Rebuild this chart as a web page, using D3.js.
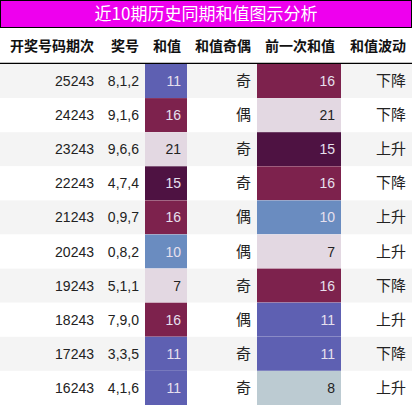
<!DOCTYPE html><html><head><meta charset="utf-8">
<script src="https://cdn.jsdelivr.net/npm/d3@7"></script>
<style>body{margin:0;background:#fff}</style></head><body><svg id="c" width="412" height="405"></svg>
<script>
const title="近10期历史同期和值图示分析";
const headers=["开奖号码期次","奖号","和值","和值奇偶","前一次和值","和值波动"];
const periods=["25243","24243","23243","22243","21243","20243","19243","18243","17243","16243"];
const numbers=["8,1,2","9,1,6","9,6,6","4,7,4","0,9,7","0,8,2","5,1,1","7,9,0","3,3,5","4,1,6"];
const sums=[11,16,21,15,16,10,7,16,11,11];
const parity=["奇","偶","奇","奇","偶","偶","奇","偶","奇","奇"];
const prevSums=[16,21,15,16,10,7,16,11,11,8];
const trend=["下降","下降","上升","下降","上升","上升","下降","上升","下降","上升"];
const colorVals=[7,8,10,11,15,16,21];
const colorRange=["#e3d8e2","#bccbd2","#6a8cc0","#5e60b2","#4e1242","#7d224d","#e3d8e2"];
const color=d3.scaleOrdinal(colorVals,colorRange);
const light=v=>v===7||v===8||v===21;
const svg=d3.select("#c");
const font="'Noto Sans CJK SC','Liberation Sans',sans-serif";
const edges=[0,100,145,187,257,341,412];
const x=d3.scaleOrdinal(d3.range(6),edges.slice(0,6));
const w=i=>edges[i+1]-edges[i];
const y=d3.scaleBand(d3.range(10),[64,405]);
svg.append("rect").attr("x",0.5).attr("y",0.5).attr("width",411).attr("height",27).attr("fill","#ee00ee").attr("stroke","#000");
svg.append("text").attr("x",206).attr("y",20).attr("text-anchor","middle").attr("fill","#fff").attr("font-size",17).attr("font-family",font).text(title);
headers.forEach((h,i)=>svg.append("text").attr("x",x(i)+w(i)-6).attr("y",51).attr("text-anchor","end").attr("font-weight","bold").attr("font-size",14).attr("font-family",font).attr("fill","#111").text(h));
svg.append("line").attr("x1",0).attr("x2",412).attr("y1",63.5).attr("y2",63.5).attr("stroke","#000").attr("stroke-width",1.5);
const rows=svg.selectAll("g.r").data(d3.range(10)).join("g");
rows.append("rect").attr("x",0).attr("y",i=>y(i)).attr("width",412).attr("height",y.bandwidth()).attr("fill",i=>i%2?"#fff":"#f4f4f4");
rows.append("rect").attr("x",x(2)).attr("y",i=>y(i)).attr("width",w(2)).attr("height",y.bandwidth()).attr("fill",i=>color(sums[i]));
rows.append("rect").attr("x",x(4)).attr("y",i=>y(i)).attr("width",w(4)).attr("height",y.bandwidth()).attr("fill",i=>color(prevSums[i]));
const cols=[i=>periods[i],i=>numbers[i],i=>sums[i],i=>parity[i],i=>prevSums[i],i=>trend[i]];
cols.forEach((f,c)=>{
 rows.append("text").attr("x",x(c)+w(c)-6).attr("y",i=>y(i)+y.bandwidth()/2+5).attr("text-anchor","end")
 .attr("font-size",c===3||c===5?15:14).attr("font-family",c===3||c===5?font:"'Liberation Sans',sans-serif")
 .attr("fill",i=>{if(c===2)return light(sums[i])?"#222":"#e6e0ee";if(c===4)return light(prevSums[i])?"#222":"#e6e0ee";return "#222";})
 .text(f);
});
</script></body></html>
